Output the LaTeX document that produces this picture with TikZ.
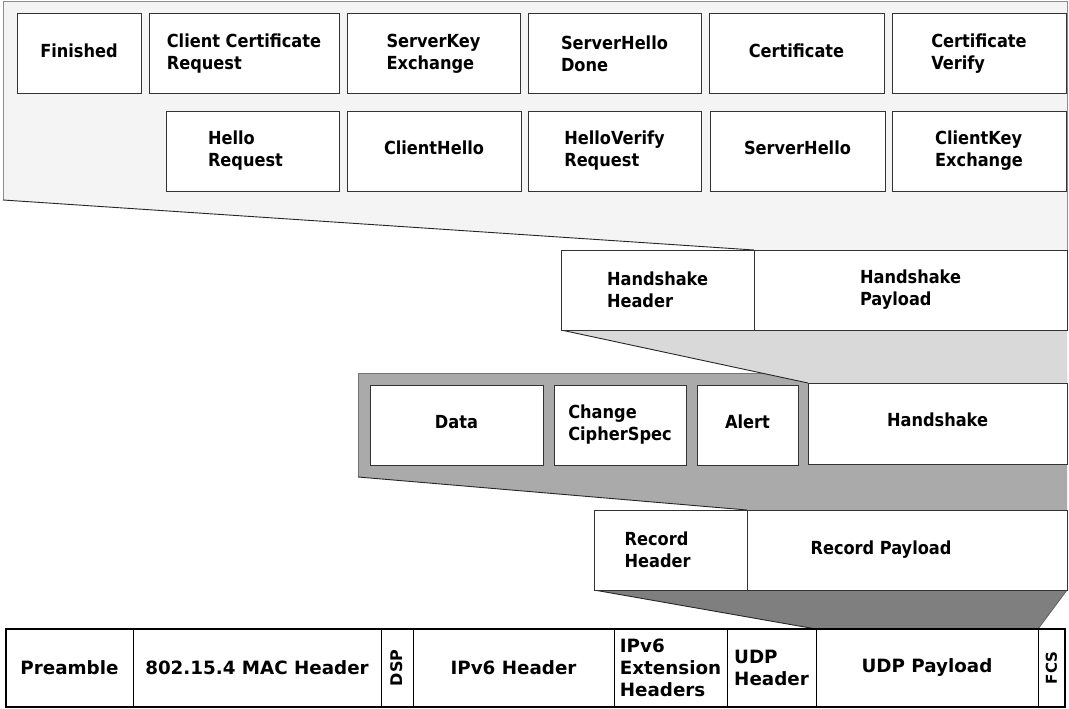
\documentclass[tikz,border=0pt]{standalone}
\usepackage{fontspec}
\setmainfont{DejaVu Sans}
\IfFontExistsTF{DejaVu Sans Condensed}
  {\newfontfamily\condfont{DejaVu Sans Condensed}}
  {\newfontfamily\condfont[FakeStretch=0.88]{DejaVu Sans}}
\usetikzlibrary{backgrounds}

\definecolor{shadeA}{HTML}{F4F4F4}
\definecolor{shadeB}{HTML}{D9D9D9}
\definecolor{shadeC}{HTML}{AAAAAA}
\definecolor{shadeD}{HTML}{7F7F7F}
\definecolor{edge}{HTML}{333333}
\definecolor{rim}{HTML}{8C8C8C}

\begin{document}
\begin{tikzpicture}[x=1pt,y=-1pt,
  cell/.style={draw=edge, line width=1pt, fill=white, anchor=north west,
    inner sep=0pt, outer sep=0pt, align=left,
    font=\condfont\bfseries\fontsize{18}{22}\selectfont},
  oneline/.style={text depth=7pt},
  frame/.style={cell, draw=black, font=\bfseries\fontsize{18.3}{22}\selectfont},
  slant/.style={draw=black!85, line width=0.9pt},
  rimline/.style={draw=rim, line width=1pt}]
\useasboundingbox (0,0) rectangle (1069,709);

% handshake message types
\node[cell, oneline, minimum width=124, minimum height=80] (fin)  at (17,14)  {Finished};
\node[cell, minimum width=190, minimum height=80] (ccr)  at (149,14) {Client Certificate\\Request};
\node[cell, minimum width=173, minimum height=80] (ske)  at (347,14) {ServerKey\\Exchange};
\node[cell, minimum width=173, minimum height=80] (shd)  at (528,14) {ServerHello\\Done};
\node[cell, oneline, minimum width=175, minimum height=80] (cert) at (709,14) {Certificate};
\node[cell, minimum width=174, minimum height=80] (cv)   at (892,14) {Certificate\\Verify};

\node[cell, minimum width=173, minimum height=80] (hr)   at (166,111) {Hello\\Request\hspace*{14pt}};
\node[cell, oneline, minimum width=174, minimum height=80] (ch)   at (347,111) {ClientHello};
\node[cell, minimum width=173, minimum height=80] (hvr)  at (528,111) {HelloVerify\\Request};
\node[cell, oneline, minimum width=175, minimum height=80] (sh)   at (710,111) {ServerHello};
\node[cell, minimum width=174, minimum height=80] (cke)  at (892,111) {ClientKey\\Exchange};

% handshake layer
\node[cell, minimum width=193, minimum height=80] (hsh) at (561,250) {Handshake\\Header};
\node[cell, minimum width=313, minimum height=80] (hsp) at (754,250) {Handshake\\Payload};

% record content types
\node[cell, oneline, minimum width=173, minimum height=80] (data)  at (370,385) {Data};
\node[cell, minimum width=132, minimum height=80] (ccs)   at (554,385) {Change\\CipherSpec};
\node[cell, oneline, minimum width=101, minimum height=80] (alert) at (697,385) {Alert};
\node[cell, oneline, minimum width=259, minimum height=81] (hs)    at (808,383) {Handshake};

% record layer
\node[cell, minimum width=153, minimum height=80] (rh) at (594,510) {Record\hspace*{28pt}\\Header};
\node[cell, minimum width=320, minimum height=80] (rp) at (747,510) {Record Payload\hspace*{52pt}};

% 802.15.4 frame
\node[frame, minimum width=127, minimum height=78] (pre)  at (6,629)    {Preamble};
\node[frame, minimum width=248, minimum height=78] (mac)  at (133,629)  {802.15.4 MAC Header};
\node[frame, minimum width=32,  minimum height=78] (dsp)  at (381,629)  {\fontsize{16}{18}\selectfont\rotatebox{90}{DSP}};
\node[frame, minimum width=201, minimum height=78] (ip6)  at (413,629)  {IPv6 Header};
\node[frame, minimum width=113, minimum height=78] (ext)  at (614,629)  {IPv6\\Extension\\Headers};
\node[frame, minimum width=89,  minimum height=78] (udph) at (727,629)  {UDP\\Header};
\node[frame, minimum width=222, minimum height=78] (udpp) at (816,629)  {UDP Payload};
\node[frame, minimum width=27,  minimum height=78] (fcs)  at (1038,629) {\fontsize{15}{17}\selectfont\rotatebox{90}{FCS}};
\draw[black, line width=2.6pt] (pre.north west) rectangle (fcs.south east);

\coordinate (topL)  at (3,2);
\coordinate (topR)  at (1067,2);
\coordinate (topBL) at (3,200);
\coordinate (midTL) at (358,373);
\coordinate (midTR) at (1067,373);
\coordinate (midBL) at (358,477);

\begin{scope}[on background layer]
  % expansion of the handshake payload
  \fill[shadeA] (topL) -- (topR) -- (hsp.north east) -- (hsp.north west) -- (topBL) -- cycle;
  \draw[rimline] (topBL) -- (topL) -- (topR) -- (hsp.north east);
  \draw[slant] (topBL) -- (hsp.north west);
  % content-type panel
  \fill[shadeC] (midTL) -- (midTR) -- (rp.north east) -- (rp.north west) -- (midBL) -- cycle;
  \draw[draw=black!55, line width=1pt] (midBL) -- (midTL) -- (midTR);
  \draw[slant] (midBL) -- (rp.north west);
  % handshake record expanding into the handshake layer
  \fill[shadeB] (hsh.south west) -- (hs.north west) -- (hs.north east) -- (hsp.south east) -- cycle;
  \draw[slant] (hsh.south west) -- (hs.north west);
  % record carried in the UDP payload
  \fill[shadeD] (rh.south west) -- (udpp.north west) -- (udpp.north east) -- (rp.south east) -- cycle;
  \draw[slant] (rh.south west) -- (udpp.north west);
  \draw[slant, draw=black!60] (rp.south east) -- (udpp.north east);
\end{scope}
\end{tikzpicture}
\end{document}
